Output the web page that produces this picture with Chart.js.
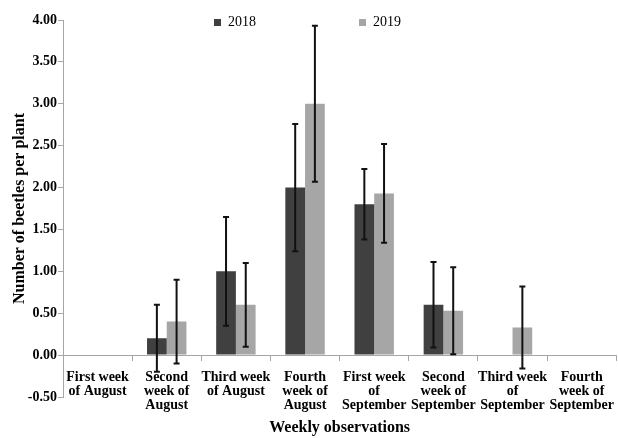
<!DOCTYPE html>
<html>
<head>
<meta charset="utf-8">
<script src="https://cdn.jsdelivr.net/npm/chart.js@4/dist/chart.umd.min.js"></script>
<style>
  html, body { margin: 0; padding: 0; background: #fff; overflow: hidden; }
  #wrap { width: 618px; height: 438px; overflow: hidden; }
</style>
</head>
<body>
<div id="wrap"><canvas id="c" width="624" height="438"></canvas></div>
<script>
// Weekly categories (multi-line axis labels)
const categories = [
  ["First week", "of August"],
  ["Second", "week of", "August"],
  ["Third week", "of August"],
  ["Fourth", "week of", "August"],
  ["First week", "of", "September"],
  ["Second", "week of", "September"],
  ["Third week", "of", "September"],
  ["Fourth", "week of", "September"]
];
const seriesNames = ["2018", "2019"];
// Mean beetles per plant
const beetles2018 = [0, 0.2, 1.0, 2.0, 1.8, 0.6, 0, 0];
const beetles2019 = [0, 0.4, 0.6, 3.0, 1.93, 0.53, 0.33, 0];
// Error bar half-widths (± around the mean)
const error2018 = [0, 0.4, 0.65, 0.76, 0.42, 0.51, 0, 0];
const error2019 = [0, 0.5, 0.5, 0.93, 0.59, 0.52, 0.49, 0];

const serif = "'Liberation Serif', 'Times New Roman', serif";
const axisGray = '#a6a6a6';
const legendPad = 103;      // spacing between legend entries
const legendTextTop = 15.5; // top of the legend row

// Draws the ± error whiskers on top of each bar
const errorBars = {
  id: 'errorBars',
  afterDatasetsDraw(chart) {
    const { ctx } = chart;
    const yScale = chart.scales.y;
    chart.data.datasets.forEach((ds, di) => {
      const meta = chart.getDatasetMeta(di);
      meta.data.forEach((bar, i) => {
        const e = ds.errorBars[i];
        if (!e) return;
        const v = ds.data[i];
        const yTop = yScale.getPixelForValue(v + e);
        const yBot = yScale.getPixelForValue(v - e);
        const x = bar.x;
        const cap = 3;
        ctx.save();
        ctx.strokeStyle = '#111';
        ctx.lineWidth = 2;
        ctx.beginPath();
        ctx.moveTo(x, yTop); ctx.lineTo(x, yBot);
        ctx.moveTo(x - cap, yTop); ctx.lineTo(x + cap, yTop);
        ctx.moveTo(x - cap, yBot); ctx.lineTo(x + cap, yBot);
        ctx.stroke();
        ctx.restore();
      });
    });
  }
};

// Lets the legend row sit over the top of the plot without taking layout height
const floatingLegend = {
  id: 'floatingLegend',
  afterLayout(chart) {
    const lg = chart.legend;
    if (!lg) return;
    lg.top = legendTextTop - legendPad;
    lg.bottom = lg.top + legendPad + 40;
    lg.height = lg.bottom - lg.top;
  }
};

new Chart(document.getElementById('c'), {
  type: 'bar',
  data: {
    labels: categories,
    datasets: [
      { label: seriesNames[0], data: beetles2018, errorBars: error2018,
        backgroundColor: '#404040', borderWidth: 0,
        categoryPercentage: 0.57, barPercentage: 1.0 },
      { label: seriesNames[1], data: beetles2019, errorBars: error2019,
        backgroundColor: '#a6a6a6', borderWidth: 0,
        categoryPercentage: 0.57, barPercentage: 1.0 }
    ]
  },
  options: {
    responsive: false,
    animation: false,
    layout: { padding: { top: 0, left: -8, right: 1, bottom: 41 } },
    plugins: {
      tooltip: { enabled: false },
      legend: {
        position: 'top',
        align: 'center',
        maxHeight: 20,
        labels: {
          boxWidth: 7,
          boxHeight: 7,
          padding: legendPad,
          color: '#000',
          font: { family: serif, size: 14 }
        }
      }
    },
    scales: {
      x: {
        position: { y: 0 },
        offset: true,
        grid: { display: true, drawOnChartArea: false, drawTicks: true, tickLength: 5, color: axisGray, offset: true },
        border: { display: true, color: axisGray, width: 1 },
        ticks: {
          autoSkip: false, maxRotation: 0, minRotation: 0, padding: 10,
          color: '#000',
          font: { family: serif, size: 14, weight: 'bold', lineHeight: 1.0 }
        },
        title: {
          display: true, text: 'Weekly observations', color: '#000',
          font: { family: serif, size: 16, weight: 'bold' },
          padding: { top: -4, bottom: 0 }
        }
      },
      y: {
        min: -0.5, max: 4.0,
        afterFit(scale) { scale.width = 71; },
        grid: { display: true, drawOnChartArea: false, drawTicks: true, tickLength: 5, color: axisGray },
        border: { display: true, color: axisGray, width: 1 },
        ticks: {
          stepSize: 0.5, padding: 1, color: '#000',
          font: { family: serif, size: 14, weight: 'bold' },
          callback: (v) => Number(v).toFixed(2)
        },
        title: {
          display: true, text: 'Number of beetles per plant', color: '#000',
          font: { family: serif, size: 16, weight: 'bold' },
          padding: { top: 18, bottom: 0 }
        }
      }
    }
  },
  plugins: [errorBars, floatingLegend]
});
</script>
</body>
</html>
